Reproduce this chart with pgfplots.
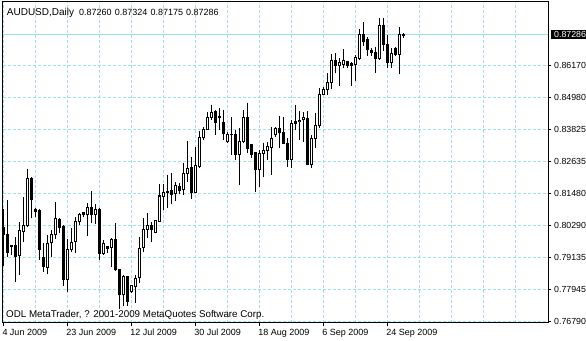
\documentclass[border=0pt]{standalone}
\usepackage{fontspec}
\setmainfont{Liberation Sans}
\usepackage{pgfplots}
\usepackage{pgfplotstable}
\pgfplotsset{compat=1.18}
\definecolor{gridc}{RGB}{160,226,226}
\definecolor{pricec}{RGB}{150,228,228}
\pgfplotstableread{
k O H L C
0 0.80215 0.80909 0.78826 0.79995
1 0.79995 0.81238 0.79166 0.79312
2 0.79582 0.79593 0.79228 0.79531
3 0.79557 0.79897 0.78252 0.79166
4 0.79191 0.80445 0.78497 0.80105
5 0.80080 0.81359 0.79714 0.80324
6 0.80288 0.82371 0.80262 0.82031
7 0.82006 0.82090 0.80569 0.81264
8 0.80898 0.80946 0.80606 0.80811
9 0.80836 0.80898 0.79045 0.79436
10 0.79129 0.79666 0.78618 0.78800
11 0.78778 0.79959 0.78522 0.79656
12 0.79677 0.80142 0.79144 0.79959
13 0.79959 0.81176 0.79813 0.80569
14 0.80507 0.80569 0.80021 0.80226
15 0.80262 0.80324 0.78095 0.78340
16 0.78340 0.79802 0.77887 0.79436
17 0.79436 0.80204 0.79349 0.79677
18 0.79714 0.80628 0.79312 0.80445
19 0.80445 0.80752 0.80324 0.80690
20 0.80774 0.80811 0.80628 0.80690
21 0.80690 0.81139 0.79922 0.80971
22 0.80971 0.81567 0.80387 0.80690
23 0.80690 0.81081 0.80361 0.80898
24 0.80898 0.80935 0.79045 0.79290
25 0.79290 0.79776 0.79228 0.79656
26 0.79531 0.79557 0.79290 0.79473
27 0.79509 0.79838 0.78778 0.79776
28 0.79776 0.80387 0.78654 0.78680
29 0.78680 0.78705 0.77243 0.77766
30 0.77766 0.78497 0.77364 0.78435
31 0.78435 0.78460 0.77364 0.77521
32 0.77887 0.78131 0.77828 0.78095
33 0.78069 0.78497 0.77473 0.78376
34 0.78398 0.79897 0.78194 0.79473
35 0.79484 0.80591 0.79338 0.80167
36 0.80167 0.80752 0.79838 0.80324
37 0.80324 0.80445 0.79714 0.80167
38 0.80058 0.80471 0.80021 0.80471
39 0.80445 0.81812 0.80423 0.81384
40 0.81359 0.81812 0.80873 0.81520
41 0.81520 0.82152 0.80957 0.81531
42 0.81567 0.82214 0.81081 0.81446
43 0.81483 0.81907 0.81202 0.81750
44 0.81724 0.81849 0.81446 0.81567
45 0.81604 0.82580 0.81421 0.82214
46 0.82214 0.83395 0.81907 0.82371
47 0.82419 0.82821 0.81275 0.81520
48 0.81520 0.83186 0.81483 0.82481
49 0.82455 0.83760 0.82397 0.83515
50 0.83515 0.83917 0.83431 0.83822
51 0.83822 0.84466 0.83797 0.84246
52 0.84246 0.84710 0.84162 0.84444
53 0.84466 0.84528 0.83614 0.84078
54 0.84272 0.84590 0.83797 0.84235
55 0.84078 0.84528 0.83431 0.83676
56 0.83369 0.83713 0.83332 0.83650
57 0.83614 0.84283 0.82883 0.83650
58 0.83650 0.83797 0.82700 0.82919
59 0.82919 0.83859 0.81786 0.83369
60 0.83369 0.84528 0.83311 0.84261
61 0.84261 0.84773 0.82945 0.83128
62 0.83274 0.83296 0.82762 0.82919
63 0.82967 0.83003 0.81541 0.82335
64 0.82335 0.83066 0.81724 0.82945
65 0.82945 0.83311 0.82090 0.83029
66 0.83029 0.83369 0.82700 0.83186
67 0.83164 0.83917 0.82152 0.83468
68 0.83614 0.83917 0.83552 0.83833
69 0.83833 0.84308 0.83128 0.83698
70 0.83713 0.84283 0.83285 0.83311
71 0.83311 0.83493 0.82455 0.82726
72 0.82726 0.84162 0.82397 0.84041
73 0.84100 0.84710 0.83797 0.84041
74 0.84100 0.84502 0.83431 0.84137
75 0.84162 0.84466 0.83369 0.84261
76 0.84224 0.84502 0.82517 0.82543
77 0.82543 0.83614 0.82397 0.83468
78 0.83468 0.84407 0.83128 0.83943
79 0.83943 0.85343 0.83859 0.85101
80 0.85101 0.85379 0.85076 0.85284
81 0.85284 0.85869 0.85076 0.85525
82 0.85525 0.86574 0.85284 0.86319
83 0.86319 0.86600 0.85869 0.86172
84 0.86161 0.86417 0.85405 0.86256
85 0.86198 0.86746 0.86052 0.86319
86 0.86293 0.86319 0.86074 0.86161
87 0.86209 0.86293 0.85405 0.86161
88 0.86198 0.86538 0.85588 0.86439
89 0.86417 0.87488 0.86355 0.87294
90 0.87294 0.87733 0.86867 0.87024
91 0.87086 0.87185 0.86512 0.86721
92 0.86695 0.86783 0.86512 0.86622
93 0.86637 0.86841 0.85891 0.86417
94 0.86392 0.87879 0.86355 0.87634
95 0.87634 0.87879 0.86684 0.86929
96 0.86929 0.87269 0.86052 0.86271
97 0.86271 0.86783 0.86074 0.86600
98 0.86783 0.86841 0.86501 0.86563
99 0.86563 0.87550 0.85832 0.87269
100 0.87260 0.87324 0.87175 0.87286
}\data
\begin{document}
\begin{tikzpicture}
\begin{axis}[
  name=ax,
  scale only axis, width=545.5pt, height=320.7pt,
  xmin=-0.2, xmax=136.2, ymin=0.76753, ymax=0.88475,
  axis line style={black, line width=1pt},
  xtick={0,16,32,48,64,80,96},
  xticklabels={4 Jun 2009,23 Jun 2009,12 Jul 2009,30 Jul 2009,18 Aug 2009,6 Sep 2009,24 Sep 2009},
  minor xtick={8,24,40,56,72,88,104,112,120,128},
  ytick={0.7679,0.779625,0.79135,0.803075,0.8148,0.826525,0.83825,0.849975,0.8617},
  yticklabels={0.76790,0.77945,0.79135,0.80290,0.81480,0.82635,0.83825,0.84980,0.86170},
  xtick pos=left, ytick pos=right, yticklabel pos=right, xticklabel pos=left,
  tick align=outside, major tick length=3pt, minor tick length=0pt,
  tick style={black, line width=1pt},
  grid=both,
  major grid style={gridc, dash pattern=on 3pt off 2pt, line width=1pt},
  minor grid style={gridc, dash pattern=on 3pt off 2pt, line width=1pt},
  xticklabel style={anchor=north west, inner sep=0pt, font=\fontsize{9}{10}\selectfont, yshift=-3.5pt, xshift=-1pt},
  yticklabel style={anchor=west, inner sep=0pt, font=\fontsize{8.8}{10}\selectfont, xshift=3pt},
  scaled y ticks=false,
  every axis plot/.append style={no marks},
]
\addplot[pricec, line width=1pt, forget plot] coordinates {(-0.2,0.87286) (136.2,0.87286)};
\addplot[draw=none, no marks, forget plot, error bars/.cd, y dir=plus, y explicit, error mark=none,
  error bar style={draw=black, line width=1pt}]
  table[x=k, y=L, y error plus expr={\thisrow{H}-\thisrow{L}}] {\data};
\addplot[draw=none, no marks, forget plot, error bars/.cd, y dir=plus, y explicit, error mark=none,
  error bar style={draw=black, line width=3pt}]
  table[x=k, y expr={min(\thisrow{O},\thisrow{C})-0.000183}, y error plus expr={abs(\thisrow{C}-\thisrow{O})+0.000366}] {\data};
\addplot[draw=none, no marks, forget plot, error bars/.cd, y dir=plus, y explicit, error mark=none,
  error bar style={draw=white, line width=1pt}]
  table[x=k, y expr={min(\thisrow{O},\thisrow{C})+0.000183}, y error plus expr={(\thisrow{C}>\thisrow{O})*max(\thisrow{C}-\thisrow{O}-0.000366,0)}] {\data};
\end{axis}
\node[anchor=base west, inner sep=0pt, font=\fontsize{10}{12}\selectfont] at ([xshift=4.2pt,yshift=306.7pt]ax.south west) {AUDUSD,Daily};
\node[anchor=base west, inner sep=0pt, font=\fontsize{9}{11}\selectfont] at ([xshift=76.5pt,yshift=306.7pt]ax.south west) {0.87260};
\node[anchor=base west, inner sep=0pt, font=\fontsize{9}{11}\selectfont] at ([xshift=112.2pt,yshift=306.7pt]ax.south west) {0.87324};
\node[anchor=base west, inner sep=0pt, font=\fontsize{9}{11}\selectfont] at ([xshift=147.9pt,yshift=306.7pt]ax.south west) {0.87175};
\node[anchor=base west, inner sep=0pt, font=\fontsize{9}{11}\selectfont] at ([xshift=183.5pt,yshift=306.7pt]ax.south west) {0.87286};
\node[anchor=base west, inner sep=0pt, font=\fontsize{9.8}{12}\selectfont] at ([xshift=3.5pt,yshift=5.4pt]ax.south west) {ODL MetaTrader, ? 2001-2009 MetaQuotes Software Corp.};
\node[anchor=west, fill=black, text=white, inner xsep=3.3pt, inner ysep=1pt, font=\fontsize{8.8}{10}\selectfont] at ([xshift=2.7pt,yshift=288.2pt]ax.south east) {0.87286};
\pgfresetboundingbox
\path[use as bounding box] ([xshift=-2.5pt,yshift=-17.3pt]ax.south west) rectangle ([xshift=38pt,yshift=2pt]ax.north east);
\end{tikzpicture}
\end{document}
